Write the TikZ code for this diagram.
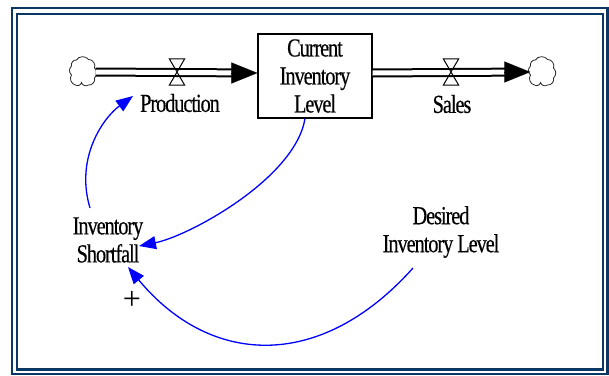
\documentclass[tikz,border=0pt]{standalone}
\usepackage{fontspec}
\newfontfamily\vensimfont[FakeStretch=0.78, LetterSpace=-4, FakeBold=0.4]{Liberation Serif}
\newfontfamily\plusfont{Liberation Serif}
\usetikzlibrary{arrows.meta}
\definecolor{framenavy}{RGB}{10,55,100}
\definecolor{linkblue}{RGB}{0,0,255}

\tikzset{
  lbl/.style={font=\vensimfont\fontsize{26}{28}\selectfont, align=center, inner sep=0pt},
  stockbox/.style={lbl, draw, line width=1.2pt, minimum width=114pt, minimum height=84pt},
  cloudspot/.style={minimum width=24pt, minimum height=27pt, inner sep=0pt},
  cloudline/.style={draw=black!85, line width=0.8pt},
  valvebox/.style={minimum width=15pt, minimum height=26pt, inner sep=0pt},
  valveline/.style={line width=1pt, line join=miter},
  pipe/.style={draw, line width=2pt, double, double distance=5pt},
  pipehead/.style={-{Triangle[length=26pt,width=21pt]}, line width=0.1pt},
  link/.style={linkblue, line width=1.3pt, -{Triangle[length=17pt,width=13pt]}},
}

\begin{document}
\begin{tikzpicture}[x=1pt, y=-1pt]
    \useasboundingbox (0,0) rectangle (609,375);
    % frame
    \draw[framenavy, line width=2.2pt] (12,8) rectangle (607.5,373.8);
    \draw[framenavy, line width=2.2pt] (17,13.7) rectangle (603,369.5);

    % stock and flows
    \node[stockbox] (level) at (315,76) {Current\\Inventory\\Level};
    \node[cloudspot] (srcCloud) at (83.5,72) {};
    \node[cloudspot] (sinkCloud) at (542.5,72) {};
    \node[valvebox] (prodValve) at (177,72) {};
    \node[valvebox] (salesValve) at (451,72) {};
    \node[lbl] (prodLabel) at (180,103) {Production};
    \node[lbl] (salesLabel) at (452,104) {Sales};

    \foreach \c in {srcCloud,sinkCloud}
      \draw[cloudline] ([shift={(-7,-12)}]\c.center) to[bend left=60] ([shift={(5,-12.5)}]\c.center)
        to[bend left=60] ([shift={(11,-4)}]\c.center) to[bend left=50] ([shift={(11,6)}]\c.center)
        to[bend left=60] ([shift={(5,13)}]\c.center) to[bend left=60] ([shift={(-2,10.5)}]\c.center)
        to[bend left=60] ([shift={(-8,13)}]\c.center) to[bend left=60] ([shift={(-12,3)}]\c.center)
        to[bend left=50] ([shift={(-12,-6)}]\c.center) to[bend left=60] ([shift={(-7,-12)}]\c.center);

    \draw[pipe, shorten >=25pt] (srcCloud.east) -- ([yshift=3pt]level.west);
    \draw[pipehead] ([shift={(-26,-3)}]level.west) -- ([yshift=3pt]level.west);
    \draw[pipe, shorten >=25pt] ([yshift=3pt]level.east) -- (sinkCloud.west);
    \draw[pipehead] ([xshift=-26pt]sinkCloud.west) -- (sinkCloud.west);

    \draw[valveline] (prodValve.north west) -- (prodValve.north east) -- (prodValve.south west) -- (prodValve.south east) -- cycle;
    \draw[valveline] (salesValve.north west) -- (salesValve.north east) -- (salesValve.south west) -- (salesValve.south east) -- cycle;

    % auxiliaries
    \node[lbl] (shortfall) at (108,240) {Inventory\\Shortfall};
    \node[lbl] (desired) at (441,232) {Desired\\Inventory Level};
    \node[font=\plusfont\fontsize{32}{32}\selectfont, inner sep=0pt] (plus) at (132,300) {+};

    % links
    \draw[link] ([xshift=-10pt]level.south) .. controls +(-10,60) and +(50,-10) .. ([shift={(31,6)}]shortfall.center);
    \draw[link] ([shift={(-18,-32)}]shortfall.center) .. controls +(-15,-50) and +(-30,22) .. ([shift={(-47,-7)}]prodLabel.center);
    \draw[link] ([shift={(-28,36)}]desired.center) .. controls +(-93,104) and +(82,99) .. ([shift={(20,27)}]shortfall.center);
\end{tikzpicture}
\end{document}
